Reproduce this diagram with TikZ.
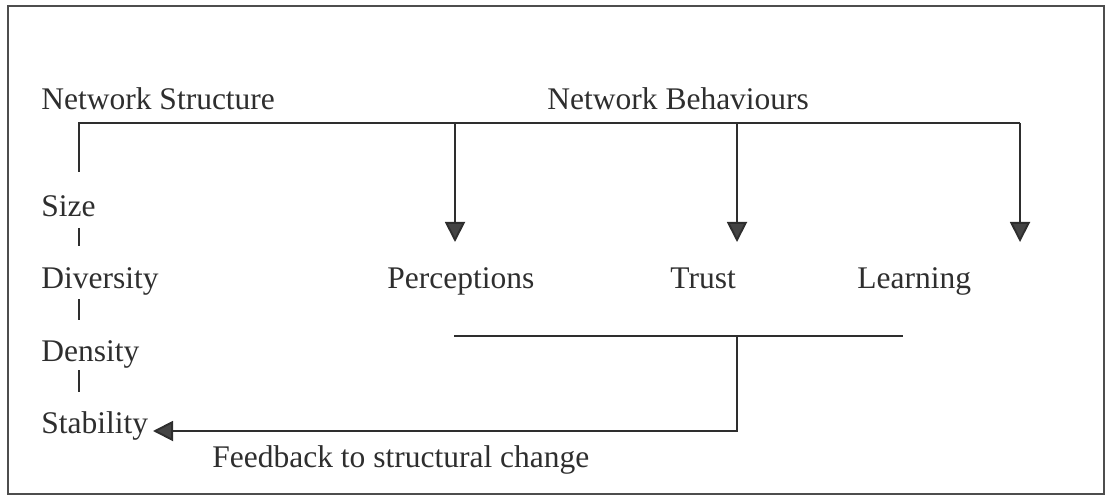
\documentclass[tikz,border=0pt]{standalone}
\usepackage{fontspec}
\setmainfont{Liberation Serif}
\usetikzlibrary{arrows.meta}
\definecolor{ink}{HTML}{2E2E2E}
\definecolor{headfill}{HTML}{444444}
\begin{document}
\begin{tikzpicture}[x=0.5pt,y=-0.5pt,
  lbl/.style={anchor=base west, inner sep=0pt, font=\fontsize{15.75}{18}\selectfont, text=ink},
  conn/.style={line width=0.95pt, draw=ink},
  arr/.style={conn, -{Triangle[width=10pt,length=10pt,fill=headfill]}},
  frame/.style={line width=0.9pt, draw=ink!85}
]
\useasboundingbox (0,0) rectangle (1107,497);
\draw[frame] (8,6) rectangle (1104,494);

% labels
\node[lbl] (ns) at (41,110) {Network Structure};
\node[lbl] (nb) at (547,110) {Network Behaviours};
\node[lbl] (size) at (41,217) {Size};
\node[lbl] (div) at (41,288) {Diversity};
\node[lbl] (den) at (41,361) {Density};
\node[lbl] (stab) at (41,433) {Stability};
\node[lbl] (perc) at (387,288) {Perceptions};
\node[lbl] (trust) at (670,288) {Trust};
\node[lbl] (learn) at (857,288) {Learning};
\node[lbl] (fbl) at (212,467) {Feedback to structural change};

% coordinates
\coordinate (tl) at (79,123);
\coordinate (tr) at (1020,123);
\coordinate (ls) at (79,172);
\coordinate (bp) at (455,123);
\coordinate (bt) at (737,123);
\coordinate (tp) at (455,242);
\coordinate (tt) at (737,242);
\coordinate (tlr) at (1020,242);
\coordinate (k1a) at (79,228); \coordinate (k1b) at (79,246);
\coordinate (k2a) at (79,299); \coordinate (k2b) at (79,320);
\coordinate (k3a) at (79,370); \coordinate (k3b) at (79,392);
\coordinate (h1) at (454,336);
\coordinate (h2) at (903,336);
\coordinate (fb) at (737,336);
\coordinate (st) at (153,431);

% top bracket
\draw[conn] (ls) -- (tl) -- (tr);
\draw[arr] (bp) -- (tp);
\draw[arr] (bt) -- (tt);
\draw[arr] (tr) -- (tlr);

% ticks between structure items
\draw[conn] (k1a) -- (k1b);
\draw[conn] (k2a) -- (k2b);
\draw[conn] (k3a) -- (k3b);

% behaviour collector and feedback
\draw[conn] (h1) -- (h2);
\draw[arr] (fb) |- (st);
\end{tikzpicture}
\end{document}
